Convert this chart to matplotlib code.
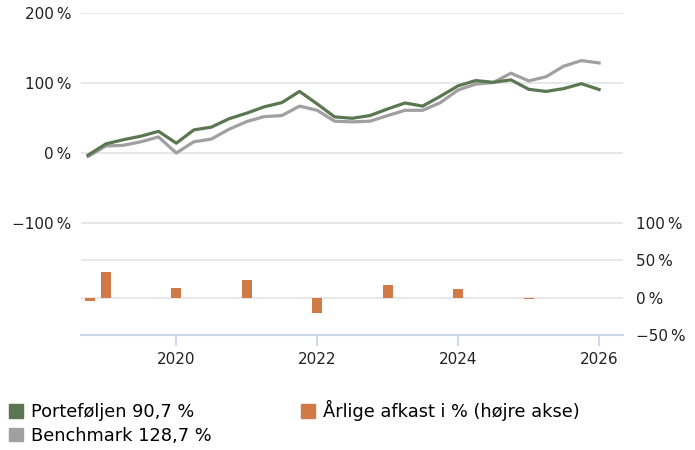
import matplotlib
matplotlib.use("Agg")
import matplotlib.pyplot as plt
import matplotlib.dates as mdates
from matplotlib.patches import Patch
from matplotlib.ticker import FuncFormatter
import pandas as pd

# quarterly cumulative returns, %
dates = pd.date_range("2018-10-01", "2026-01-01", freq="QS")
portfolio = [-3, 13, 19, 24, 31, 14, 33, 37, 49, 57, 66, 72, 88, 70, 51.6,
             49.6, 53.5, 63, 71.5, 67, 81, 96, 103.5, 101, 104.5, 91, 88, 92,
             99, 90.7]
benchmark = [-5, 10, 11, 16, 23, 0, 16, 20, 34, 45, 52, 53.5, 67, 61, 45.4,
             44.5, 45.4, 53.5, 61, 61, 72, 90, 98.4, 100.7, 114, 103, 109,
             124, 132, 128.7]

# yearly returns, % (right axis)
bar_dates = pd.to_datetime(["2018-10-10", "2019-01-01", "2020-01-01", "2021-01-01",
                            "2022-01-01", "2023-01-01", "2024-01-01", "2025-01-01"])
yearly = [-5, 35, 13, 24, -20, 17, 12, -2]

labels = ["Porteføljen 90,7 %", "Benchmark 128,7 %", "Årlige afkast i % (højre akse)"]

green = "#5b7752"
grey = "#a0a0a0"
orange = "#d07a48"
gridc = "#e6e6e6"
axisc = "#ccd6eb"

plt.rcParams["font.family"] = ["DejaVu Sans"]

def pct(v, pos):
    s = "%d\u2009%%" % abs(v)
    return ("\u2212" + s) if v < 0 else s

fig = plt.figure(figsize=(6.95, 4.5), dpi=100)
ax = fig.add_axes([0.1165, 0.5044, 0.780, 0.4667])
ax2 = fig.add_axes([0.1165, 0.2556, 0.780, 0.2489], sharex=ax)

ax.plot(dates, portfolio, color=green, lw=2.3, zorder=3)
ax.plot(dates, benchmark, color=grey, lw=2.3, zorder=2)
ax.set_ylim(-100, 200)
ax.set_yticks([-100, 0, 100, 200])
ax.yaxis.set_major_formatter(FuncFormatter(pct))
ax.grid(axis="y", color=gridc, lw=1.3)
ax.set_axisbelow(True)
for s in ax.spines.values():
    s.set_visible(False)
ax.tick_params(axis="y", length=0, pad=7, labelsize=11, labelcolor="#222222")
ax.tick_params(axis="x", bottom=False, labelbottom=False)

ax2.bar(bar_dates, yearly, width=52, color=orange, zorder=3)
ax2.set_ylim(-50, 100)
ax2.set_yticks([-50, 0, 50, 100])
ax2.yaxis.set_major_formatter(FuncFormatter(pct))
ax2.yaxis.tick_right()
ax2.grid(axis="y", color=gridc, lw=1.3)
ax2.set_axisbelow(True)
for k in ["top", "left", "right"]:
    ax2.spines[k].set_visible(False)
ax2.spines["bottom"].set_color(axisc)
ax2.spines["bottom"].set_linewidth(1.5)
ax2.tick_params(axis="y", length=0, pad=9, labelsize=11, labelcolor="#222222")
ax2.xaxis.set_major_locator(mdates.YearLocator(2))
ax2.xaxis.set_major_formatter(mdates.DateFormatter("%Y"))
ax2.tick_params(axis="x", length=8, width=1.3, color=axisc, pad=4,
                labelsize=11, labelcolor="#222222")
ax2.set_xlim(pd.Timestamp("2018-08-25"), pd.Timestamp("2026-05-05"))

handles = [Patch(color=green), Patch(color=grey), Patch(color=orange)]
fig.legend(handles, labels, loc="upper left", bbox_to_anchor=(0.003, 0.127),
           ncol=2, frameon=False, fontsize=12.8, handlelength=0.8,
           handleheight=0.8, handletextpad=0.45, columnspacing=5.0,
           labelspacing=0.32, borderaxespad=0, borderpad=0.4)

fig.savefig("out.png", dpi=100)
